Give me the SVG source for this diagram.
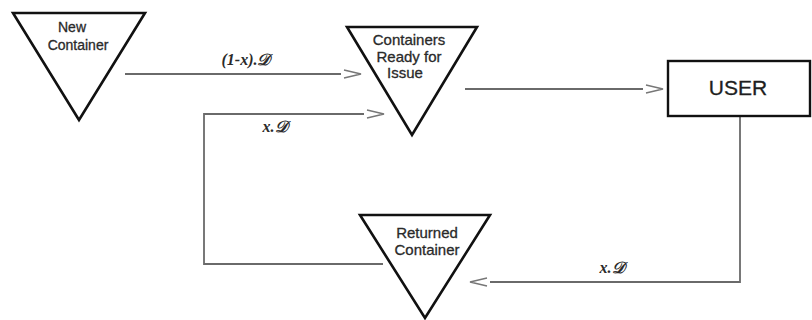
<svg xmlns="http://www.w3.org/2000/svg" width="812" height="320" viewBox="0 0 812 320">
  <style>
    .tri { fill: #ffffff; stroke: #111111; stroke-width: 2.6; stroke-linejoin: miter; }
    .box { fill: #ffffff; stroke: #111111; stroke-width: 2.4; }
    .lbl { font-family: "Liberation Sans", Arial, sans-serif; font-size: 15px; fill: #2a2a2a; stroke: #2a2a2a; stroke-width: 0.3; text-anchor: middle; }
    .big { font-family: "Liberation Sans", Arial, sans-serif; font-size: 21px; fill: #1e1e1e; stroke: #1e1e1e; stroke-width: 0.3; text-anchor: middle; }
    .flow { fill: none; stroke: #6a6a6a; stroke-width: 1.8; marker-end: url(#chev); }
    .qty { font-family: "Liberation Serif", "DejaVu Serif", serif; font-size: 16px; font-weight: bold; font-style: italic; fill: #2a2a2a; text-anchor: middle; }
  </style>
  <defs>
    <marker id="chev" markerUnits="userSpaceOnUse" viewBox="0 0 22 10" refX="0" refY="5" markerWidth="22" markerHeight="10" orient="auto">
      <path d="M3,1 L20,5 L3,9" fill="none" stroke="#777777" stroke-width="1.4"/>
    </marker>
  </defs>

  <rect width="812" height="320" fill="#ffffff"/>

  <g id="connectors">
    <path class="flow" d="M125,74 L341,74"/>
    <path class="flow" d="M383,264 L204,264 L204,114 L364,114"/>
    <path class="flow" d="M465,89 L643,89"/>
    <path class="flow" d="M740,116 L740,282 L490,282"/>
    <text class="qty" x="246" y="65">(1-x).𝒟</text>
    <text class="qty" x="275" y="132">x.𝒟</text>
    <text class="qty" x="612" y="273">x.𝒟</text>
  </g>

  <g id="new-container">
    <path class="tri" d="M13,13 L145,13 L79,120 Z"/>
    <text class="lbl" x="72" y="32" style="font-size:14px">New</text>
    <text class="lbl" x="78" y="50" style="font-size:14px">Container</text>
  </g>

  <g id="ready-for-issue">
    <path class="tri" d="M347,27 L477,27 L412,135 Z"/>
    <text class="lbl" x="409" y="45">Containers</text>
    <text class="lbl" x="409" y="62">Ready for</text>
    <text class="lbl" x="405" y="78">Issue</text>
  </g>

  <g id="user">
    <rect class="box" x="668" y="61" width="142" height="55"/>
    <text class="big" x="738" y="95">USER</text>
  </g>

  <g id="returned-container">
    <path class="tri" d="M360,215 L490,215 L425,318 Z"/>
    <text class="lbl" x="427" y="238">Returned</text>
    <text class="lbl" x="427" y="255">Container</text>
  </g>
</svg>
